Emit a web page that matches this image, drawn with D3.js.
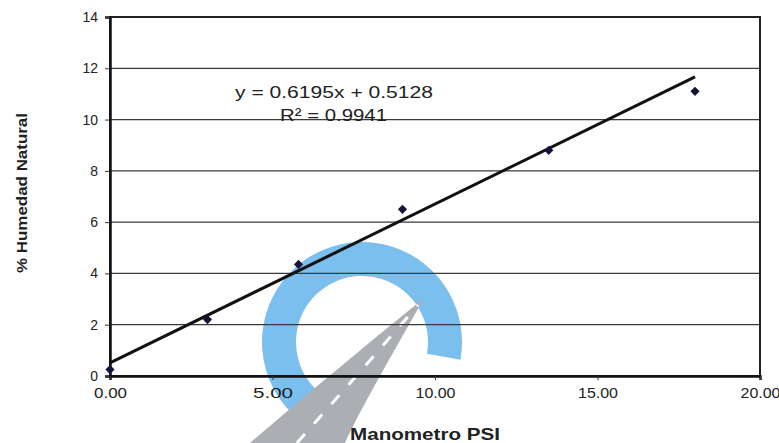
<!DOCTYPE html>
<html>
<head>
<meta charset="utf-8">
<script src="https://cdn.jsdelivr.net/npm/d3@7"></script>
<style>
html,body{margin:0;padding:0;background:#fff;}
svg{display:block;font-family:"Liberation Sans",Arial,sans-serif;}
</style>
</head>
<body>
<svg id="chart" width="779" height="443"></svg>
<script>
// ---- data ----
const psi = [0.0, 3.0, 5.8, 9.0, 13.5, 18.0];
const humedad = [0.25, 2.2, 4.35, 6.5, 8.8, 11.1];
const slope = 0.6195;
const intercept = 0.5128;
const r2 = 0.9941;
const xTicks = [0, 5, 10, 15, 20];
const yTicks = [0, 2, 4, 6, 8, 10, 12, 14];
const xTitle = "Manometro PSI";
const yTitle = "% Humedad  Natural";

const svg = d3.select("#chart");
const W = 779, H = 443;
const m = {left: 110, right: 19, top: 17, bottom: 67};

const x = d3.scaleLinear().domain([0, 20]).range([m.left, W - m.right]);
const y = d3.scaleLinear().domain([0, 14]).range([H - m.bottom, m.top]);

// watermark (decorative)
const wm = svg.append("g").attr("opacity", 0.9);
const arcGen = d3.arc();
wm.append("path")
  .attr("transform", "translate(362,342)")
  .attr("d", arcGen({innerRadius: 66, outerRadius: 100, startAngle: -2.55, endAngle: 1.75}))
  .attr("fill", "#6cb9ec");
wm.append("path")
  .attr("d", "M250,443 C300,400 360,350 424,298 C395,350 365,400 345,443 Z")
  .attr("fill", "#a2a6ab");
wm.append("path")
  .attr("d", "M297,443 C335,400 375,355 418,305")
  .attr("fill", "none").attr("stroke", "#fff").attr("stroke-width", 3).attr("stroke-dasharray", "12,14");

// gridlines
svg.append("g")
  .selectAll("line")
  .data(yTicks.filter(d => d > 0 && d < 14))
  .join("line")
  .attr("x1", x(0)).attr("x2", x(20))
  .attr("y1", d => y(d)).attr("y2", d => y(d))
  .attr("stroke", "#3a3a3a").attr("stroke-width", 1.3);

// frame
svg.append("rect")
  .attr("x", x(0)).attr("y", y(14))
  .attr("width", x(20) - x(0)).attr("height", y(0) - y(14))
  .attr("fill", "none").attr("stroke", "#222").attr("stroke-width", 2);

// axes
const yAxis = d3.axisLeft(y).tickValues(yTicks).tickFormat(d3.format("d")).tickSize(5).tickPadding(7);
const gy = svg.append("g").attr("transform", `translate(${x(0)},0)`).call(yAxis);
gy.select(".domain").attr("stroke", "#111").attr("stroke-width", 2.5);
gy.selectAll(".tick line").attr("stroke", "#333");
gy.selectAll("text").attr("font-size", 14).attr("fill", "#222")
  .attr("font-family", "Liberation Sans, Arial, sans-serif");

const xAxis = d3.axisBottom(x).tickValues(xTicks).tickFormat(d3.format(".2f")).tickSize(4).tickPadding(8);
const gx = svg.append("g").attr("transform", `translate(0,${y(0)})`).call(xAxis);
gx.select(".domain").attr("stroke", "#111").attr("stroke-width", 2.5);
gx.selectAll(".tick line").attr("stroke", "#333");
gx.selectAll("text").attr("font-size", 14).attr("fill", "#222")
  .attr("font-family", "Liberation Sans, Arial, sans-serif")
  .attr("textLength", 40).attr("lengthAdjust", "spacingAndGlyphs");
gx.selectAll(".tick").filter(d => d === 0).select("text").attr("textLength", 33);

// trendline
const xMin = d3.min(psi), xMax = d3.max(psi);
svg.append("line")
  .attr("x1", x(xMin)).attr("y1", y(slope * xMin + intercept))
  .attr("x2", x(xMax)).attr("y2", y(slope * xMax + intercept))
  .attr("stroke", "#111").attr("stroke-width", 3);

// points
const pts = psi.map((v, i) => ({x: v, y: humedad[i]}));
svg.append("g").selectAll("path")
  .data(pts)
  .join("path")
  .attr("transform", d => `translate(${x(d.x)},${y(d.y)}) rotate(45)`)
  .attr("d", d3.symbol().type(d3.symbolSquare).size(42))
  .attr("fill", "#14143a");

// equation
svg.append("text")
  .attr("x", 235).attr("y", 98)
  .attr("font-size", 17).attr("fill", "#222")
  .attr("textLength", 198).attr("lengthAdjust", "spacingAndGlyphs")
  .text(`y = ${slope}x + ${intercept}`);
svg.append("text")
  .attr("x", 280).attr("y", 121)
  .attr("font-size", 17).attr("fill", "#222")
  .attr("textLength", 107).attr("lengthAdjust", "spacingAndGlyphs")
  .text(`R² = ${r2}`);

// titles
svg.append("text")
  .attr("x", 425).attr("y", 440)
  .attr("text-anchor", "middle")
  .attr("font-size", 17).attr("font-weight", "bold").attr("fill", "#222")
  .attr("textLength", 150).attr("lengthAdjust", "spacingAndGlyphs")
  .text(xTitle);
svg.append("text")
  .attr("transform", "translate(27,193) rotate(-90)")
  .attr("text-anchor", "middle")
  .attr("font-size", 15).attr("font-weight", "bold").attr("fill", "#222")
  .attr("textLength", 160).attr("lengthAdjust", "spacingAndGlyphs")
  .text(yTitle);
</script>
</body>
</html>
